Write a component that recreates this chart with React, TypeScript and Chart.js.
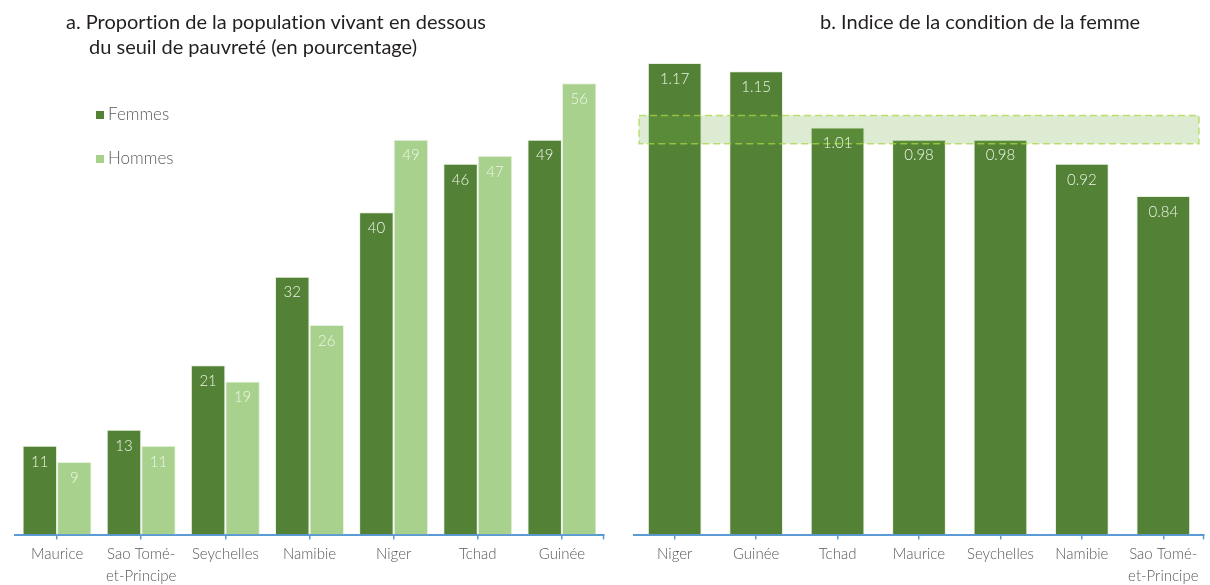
import React, { useEffect, useRef } from "react";
import { Chart, registerables } from "chart.js";

Chart.register(...registerables);

// Panel a: share of population below the poverty line (%)
const countriesA: (string | string[])[] = [
  "Maurice",
  ["Sao Tomé-", "et-Principe"],
  "Seychelles",
  "Namibie",
  "Niger",
  "Tchad",
  "Guinée",
];
const femmes = [11, 13, 21, 32, 40, 46, 49];
const hommes = [9, 11, 19, 26, 49, 47, 56];

// Panel b: women's condition index
const countriesB: (string | string[])[] = [
  "Niger",
  "Guinée",
  "Tchad",
  "Maurice",
  "Seychelles",
  "Namibie",
  ["Sao Tomé-", "et-Principe"],
];
const indice = [1.17, 1.15, 1.01, 0.98, 0.98, 0.92, 0.84];
// parity range shown as a shaded band
const parityBand = [0.97, 1.04];

const DARK = "#538135";
const LIGHT = "#a9d18e";
const AXIS_BLUE = "#5b9bd5";
const TEXT_GREY = "#595959";
const FONT = "Lato, 'Open Sans', sans-serif";
const CANVAS_H = 591;

// value labels drawn inside the top of each bar
const valueLabels = (decimals: number) => ({
  id: "valueLabels",
  afterDatasetsDraw(chart: any) {
    const ctx = chart.ctx;
    ctx.save();
    ctx.font = `300 15px ${FONT}`;
    ctx.fillStyle = "#eef5e8";
    ctx.textAlign = "center";
    ctx.textBaseline = "middle";
    chart.data.datasets.forEach((ds: any, i: number) => {
      const meta = chart.getDatasetMeta(i);
      meta.data.forEach((bar: any, j: number) => {
        const v = ds.data[j] as number;
        ctx.fillText(v.toFixed(decimals), bar.x, bar.y + 16);
      });
    });
    ctx.restore();
  },
});

// closing tick at the right end of the category axis
const endTick = {
  id: "endTick",
  afterDraw(chart: any) {
    const { ctx, chartArea } = chart;
    ctx.save();
    ctx.strokeStyle = AXIS_BLUE;
    ctx.lineWidth = 1.5;
    ctx.beginPath();
    ctx.moveTo(chartArea.right - 0.5, chartArea.bottom);
    ctx.lineTo(chartArea.right - 0.5, chartArea.bottom + 5);
    ctx.stroke();
    ctx.restore();
  },
};

// legend placed inside the plot area
const innerLegend = {
  id: "innerLegend",
  afterDraw(chart: any) {
    const { ctx, chartArea } = chart;
    ctx.save();
    ctx.font = `300 17px ${FONT}`;
    ctx.textBaseline = "middle";
    chart.data.datasets.forEach((ds: any, i: number) => {
      const x = chartArea.left + 81;
      const y = chartArea.top + 64 + i * 44;
      ctx.fillStyle = ds.backgroundColor;
      ctx.fillRect(x, y - 4, 8, 8);
      ctx.fillStyle = TEXT_GREY;
      ctx.fillText(ds.label, x + 12, y);
    });
    ctx.restore();
  },
};

// shaded parity band over the bars of panel b
const bandPlugin = {
  id: "parityBandOverlay",
  afterDatasetsDraw(chart: any) {
    const { ctx, chartArea } = chart;
    const y = chart.scales.y;
    const top = y.getPixelForValue(parityBand[1]);
    const bottom = y.getPixelForValue(parityBand[0]);
    const left = chartArea.left + 5;
    const right = chartArea.right - 5;
    ctx.save();
    ctx.fillStyle = "rgba(112,173,71,0.24)";
    ctx.fillRect(left, top, right - left, bottom - top);
    ctx.strokeStyle = "rgba(170,215,70,0.75)";
    ctx.lineWidth = 1.5;
    ctx.setLineDash([7, 4]);
    ctx.strokeRect(left, top, right - left, bottom - top);
    ctx.restore();
  },
};

const xAxis = {
  border: { color: AXIS_BLUE, width: 2 },
  grid: {
    offset: false,
    drawOnChartArea: false,
    color: AXIS_BLUE,
    lineWidth: 1.5,
    tickLength: 5,
  },
  ticks: {
    color: TEXT_GREY,
    font: { family: FONT, size: 15, weight: "300" as any, lineHeight: 1.45 },
    padding: 4,
    maxRotation: 0,
    autoSkip: false,
  },
};

function PovertyChart() {
  const ref = useRef<HTMLCanvasElement>(null);
  useEffect(() => {
    const chart = new Chart(ref.current!, {
      type: "bar",
      data: {
        labels: countriesA,
        datasets: [
          {
            label: "Femmes",
            data: femmes,
            backgroundColor: DARK,
            borderColor: "rgba(226,239,218,0.8)",
            borderWidth: 1,
            categoryPercentage: 0.82,
            barPercentage: 1,
          },
          {
            label: "Hommes",
            data: hommes,
            backgroundColor: LIGHT,
            borderColor: "rgba(226,239,218,0.8)",
            borderWidth: 1,
            categoryPercentage: 0.82,
            barPercentage: 1,
          },
        ],
      },
      options: {
        responsive: false,
        animation: false,
        layout: { padding: { left: 15, right: 11, top: 51, bottom: 0 } },
        plugins: { legend: { display: false }, tooltip: { enabled: false } },
        scales: {
          x: xAxis as any,
          y: { display: false, min: 0, max: 60 },
        },
      },
      plugins: [valueLabels(0), endTick, innerLegend],
    });
    return () => chart.destroy();
  }, []);
  return <canvas ref={ref} width={615} height={CANVAS_H} style={{ display: "block" }} />;
}

function IndexChart() {
  const ref = useRef<HTMLCanvasElement>(null);
  useEffect(() => {
    const chart = new Chart(ref.current!, {
      type: "bar",
      data: {
        labels: countriesB,
        datasets: [
          {
            label: "Indice",
            data: indice,
            backgroundColor: DARK,
            borderColor: "rgba(226,239,218,0.8)",
            borderWidth: 1,
            categoryPercentage: 0.66,
            barPercentage: 1,
          },
        ],
      },
      options: {
        responsive: false,
        animation: false,
        layout: { padding: { left: 19, right: 6, top: 51, bottom: 0 } },
        plugins: { legend: { display: false }, tooltip: { enabled: false } },
        scales: {
          x: xAxis as any,
          y: { display: false, min: 0, max: 1.2 },
        },
      },
      plugins: [bandPlugin, valueLabels(2), endTick],
    });
    return () => chart.destroy();
  }, []);
  return <canvas ref={ref} width={595} height={CANVAS_H} style={{ display: "block" }} />;
}

const titleStyle: React.CSSProperties = {
  position: "absolute",
  fontFamily: "Lato, sans-serif",
  fontSize: 20,
  lineHeight: "25px",
  color: "#231f20",
  whiteSpace: "nowrap",
  fontVariantLigatures: "none",
};

export default function App() {
  return (
    <div style={{ position: "fixed", left: 0, top: 0, width: 1210, height: 585, background: "#fff", overflow: "hidden" }}>
      <div style={{ position: "absolute", left: 0, top: 0 }}>
        <PovertyChart />
      </div>
      <div style={{ position: "absolute", left: 615, top: 0 }}>
        <IndexChart />
      </div>
      <div style={{ ...titleStyle, left: 66, top: 9 }}>
        <div>a. Proportion de la population vivant en dessous</div>
        <div style={{ paddingLeft: 23 }}>du seuil de pauvreté (en pourcentage)</div>
      </div>
      <div style={{ ...titleStyle, left: 820, top: 9 }}>b. Indice de la condition de la femme</div>
    </div>
  );
}
